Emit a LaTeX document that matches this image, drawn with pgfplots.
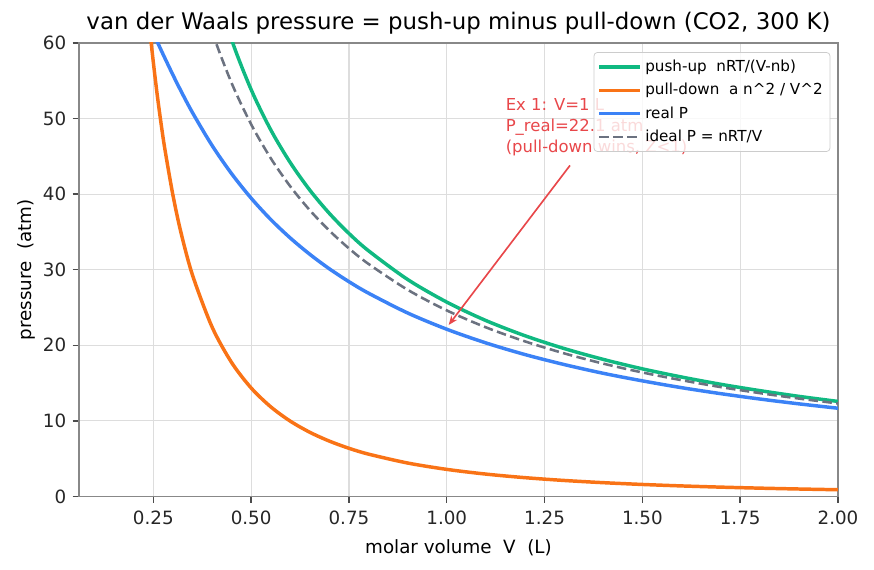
\documentclass[border=0pt]{standalone}
\usepackage{pgfplots}
\pgfplotsset{compat=1.18}
\usetikzlibrary{arrows.meta}
\usepackage{fontspec}
\setmainfont{DejaVu Sans}
\definecolor{cpush}{HTML}{10B981}
\definecolor{cpull}{HTML}{F97316}
\definecolor{creal}{HTML}{3B82F6}
\definecolor{cideal}{HTML}{6B7280}
\definecolor{cann}{HTML}{E8474A}
\definecolor{cspine}{HTML}{888888}
\definecolor{cgrid}{HTML}{DDDDDD}
\begin{document}
\begin{tikzpicture}
\begin{axis}[
  scale only axis, width=415pt, height=248pt,
  xmin=0.06, xmax=2.0, ymin=0, ymax=60,
  xtick={0.25,0.5,0.75,1.0,1.25,1.5,1.75,2.0},
  ytick={0,10,20,30,40,50,60},
  xticklabel style={yshift=-1pt, /pgf/number format/fixed, /pgf/number format/fixed zerofill, /pgf/number format/precision=2},
  /pgf/number format/assume math mode=true,
  tick label style={font=\fontsize{10}{12}\selectfont, text=black!85},
  tick align=outside, tick pos=left,
  major tick length=3.5pt,
  every tick/.style={black!70, line width=0.8pt},
  axis line style={cspine, line width=0.9pt},
  grid=major, major grid style={cgrid, line width=0.6pt},
  title={van der Waals pressure = push-up minus pull-down (CO2, 300 K)},
  title style={font=\fontsize{12.5}{15}\selectfont, yshift=-5pt},
  xlabel={molar volume\ \ V\ \ (L)},
  ylabel={pressure\ \ (atm)},
  label style={font=\fontsize{10}{12}\selectfont},
  xlabel style={yshift=-1pt},
  ylabel style={yshift=-3pt},
  legend pos=north east,
  legend cell align=left,
  legend style={font=\fontsize{8.3}{10}\selectfont, draw=black!20, rounded corners=2pt,
    fill=white, fill opacity=0.8, draw opacity=1, text opacity=1,
    at={(0.99,0.98)}, anchor=north east, inner sep=2pt,
    row sep=1.0pt},
  legend image post style={xscale=1.3},
  clip=true,
]
\addplot[cpush, line width=1.9pt, smooth] coordinates {
(0.20,156.47)(0.22,138.82)(0.24,124.75)(0.25,118.74)(0.26,113.27)(0.27,108.29)
(0.28,103.73)(0.30,95.67)(0.32,88.77)(0.35,80.10)(0.40,68.89)(0.45,60.44)
(0.50,53.83)(0.55,48.52)(0.60,44.17)(0.65,40.53)(0.70,37.45)(0.75,34.80)
(0.80,32.51)(0.90,28.71)(1.00,25.72)(1.10,23.28)(1.20,21.27)(1.30,19.58)
(1.40,18.14)(1.50,16.89)(1.60,15.81)(1.70,14.85)(1.80,14.01)(1.90,13.25)(2.00,12.58)};
\addlegendentry{push-up\ \ nRT/(V-nb)}
\addplot[cpull, line width=1.9pt, smooth] coordinates {
(0.20,89.75)(0.22,74.17)(0.24,62.33)(0.25,57.44)(0.26,53.11)(0.27,49.25)
(0.28,45.79)(0.30,39.89)(0.32,35.06)(0.35,29.31)(0.40,22.44)(0.45,17.73)
(0.50,14.36)(0.55,11.87)(0.60,9.972)(0.65,8.497)(0.70,7.327)(0.75,6.382)
(0.80,5.609)(0.90,4.432)(1.00,3.590)(1.10,2.967)(1.20,2.493)(1.30,2.124)
(1.40,1.832)(1.50,1.596)(1.60,1.402)(1.70,1.242)(1.80,1.108)(1.90,0.9945)(2.00,0.8975)};
\addlegendentry{pull-down\ \ a n\textasciicircum 2 / V\textasciicircum 2}
\addplot[creal, line width=1.9pt, smooth] coordinates {
(0.20,66.72)(0.22,64.65)(0.24,62.42)(0.25,61.30)(0.26,60.16)(0.27,59.04)
(0.28,57.94)(0.30,55.78)(0.32,53.71)(0.35,50.79)(0.40,46.45)(0.45,42.71)
(0.50,39.47)(0.55,36.65)(0.60,34.20)(0.65,32.04)(0.70,30.12)(0.75,28.42)
(0.80,26.90)(0.90,24.28)(1.00,22.13)(1.10,20.32)(1.20,18.78)(1.30,17.46)
(1.40,16.30)(1.50,15.30)(1.60,14.40)(1.70,13.61)(1.80,12.90)(1.90,12.26)(2.00,11.68)};
\addlegendentry{real P}
\addplot[cideal, line width=1.4pt, dash pattern=on 5.2pt off 2.4pt, smooth] coordinates {
(0.20,123.09)(0.22,111.90)(0.24,102.58)(0.25,98.47)(0.26,94.68)(0.27,91.18)
(0.28,87.92)(0.30,82.06)(0.32,76.93)(0.35,70.34)(0.40,61.55)(0.45,54.71)
(0.50,49.24)(0.55,44.76)(0.60,41.03)(0.65,37.87)(0.70,35.17)(0.75,32.82)
(0.80,30.77)(0.90,27.35)(1.00,24.62)(1.10,22.38)(1.20,20.52)(1.30,18.94)
(1.40,17.58)(1.50,16.41)(1.60,15.39)(1.70,14.48)(1.80,13.68)(1.90,12.96)(2.00,12.31)};
\addlegendentry{ideal P = nRT/V}
\node[anchor=south west, align=left, text=cann, inner sep=0pt,
  font=\fontsize{9}{11.5}\selectfont] at (axis cs:1.15,45)
  {Ex 1: V=1 L\\P\_real=22.1 atm\\(pull-down wins, Z<1)};
\draw[cann, line width=0.9pt, -{Stealth[length=5pt,width=4pt]}] (axis cs:1.315,43.8) -- (axis cs:1.005,22.7);
\end{axis}
\pgfresetboundingbox
\path[use as bounding box] ([xshift=-43.2pt,yshift=-39.9pt]current axis.south west) rectangle ([xshift=19.7pt,yshift=23.5pt]current axis.north east);
\end{tikzpicture}
\end{document}
